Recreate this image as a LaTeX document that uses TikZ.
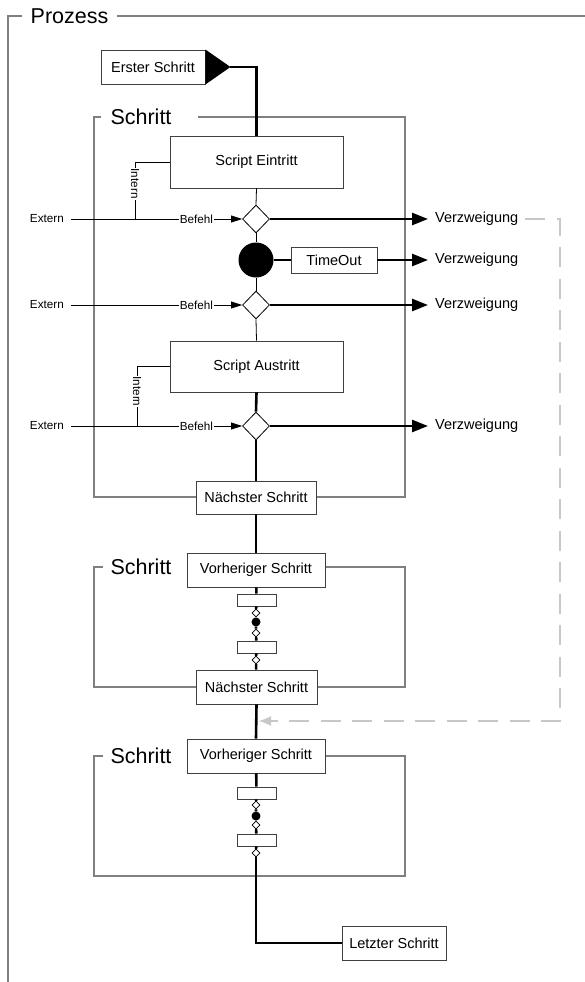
\documentclass[tikz,border=0pt]{standalone}
\usepackage{fontspec}
\setmainfont{Liberation Sans}
\usetikzlibrary{shapes.geometric,arrows.meta}
\definecolor{frameline}{RGB}{128,128,128}
\definecolor{boxline}{RGB}{64,64,64}
\definecolor{jumpline}{RGB}{200,200,200}
\newcommand\boxfont{\fontsize{14.5}{17}\selectfont}
\newcommand\lblfont{\fontsize{11.7}{14}\selectfont}
\newcommand\frmfont{\fontsize{21.5}{25}\selectfont}

\tikzset{
  box/.style={draw=boxline, line width=0.9pt, fill=white, inner sep=0pt, font=\boxfont},
  gate/.style={diamond, draw, line width=0.8pt, fill=white, inner sep=0pt, minimum width=27pt, minimum height=28pt},
  slot/.style={draw=boxline, line width=0.9pt, fill=white, inner sep=0pt, minimum width=39pt, minimum height=12pt},
  pin/.style={diamond, draw, line width=0.6pt, fill=white, inner sep=0pt, minimum size=8pt},
  knob/.style={circle, fill=black, inner sep=0pt, minimum size=9pt},
  hull/.style={draw=frameline, line width=1.2pt},
  flow/.style={line width=2.6pt},
  wire/.style={line width=0.8pt},
  branch/.style={line width=2.6pt, -{Triangle[length=16pt,width=12pt]}},
  cmd/.style={line width=0.8pt, -{Triangle[length=11pt,width=7pt]}},
  back/.style={draw=jumpline, line width=2.6pt, dash pattern=on 20pt off 11.5pt, -{Latex[length=13pt,width=10pt]}},
  exit/.style={font=\boxfont, anchor=west, inner xsep=7pt, inner ysep=0pt},
  ext/.style={font=\lblfont, anchor=east, inner xsep=7pt, inner ysep=0pt},
  cmdlbl/.style={font=\lblfont, fill=white, inner sep=1pt},
  intern/.style={font=\lblfont, rotate=-90, fill=white, inner sep=1pt}
}

\begin{document}
\begin{tikzpicture}[x=1pt, y=-1pt]
  \useasboundingbox (0,0) rectangle (585,982);

  % Process frame
  \draw[hull] (585,16) -- (8,16) -- (8,982);
  \node[font=\frmfont, fill=white, inner xsep=9pt] (prozess) at (69.5,16) {Prozess};

  % Step frames
  \draw[hull] (101,117) -- (94,117) -- (94,497) -- (196,497);
  \draw[hull] (198,117) -- (405,117) -- (405,497) -- (316,497);
  \draw[hull] (103,567) -- (94,567) -- (94,687) -- (196,687);
  \draw[hull] (325,567) -- (405,567) -- (405,687) -- (317,687);
  \draw[hull] (103,756) -- (94,756) -- (94,876) -- (405,876) -- (405,756) -- (325,756);
  \node[font=\frmfont] (step1) at (141,117) {Schritt};
  \node[font=\frmfont] (step2) at (141,567) {Schritt};
  \node[font=\frmfont] (step3) at (141,756) {Schritt};

  % First step with its start marker
  \node[box, minimum width=104pt, minimum height=34pt] (first) at (153,67) {Erster Schritt};
  \fill (first.north east) -- (first.south east) -- ([xshift=25pt]first.east) coordinate (start) -- cycle;

  % Step 1
  \node[box, minimum width=173pt, minimum height=52pt] (entry) at (256.5,162) {Script Eintritt};
  \node[gate] (g1) at (256,219) {};
  \node[circle, fill=black, inner sep=0pt, minimum size=35pt] (timer) at (256,260) {};
  \node[box, minimum width=86pt, minimum height=26pt] (timeout) at (334,260) {TimeOut};
  \node[gate] (g2) at (256,305) {};
  \node[box, minimum width=173pt, minimum height=51pt] (exitbox) at (256.5,366.5) {Script Austritt};
  \node[gate] (g3) at (256,426) {};
  \node[box, minimum width=120pt, minimum height=33pt] (next1) at (256,497.5) {Nächster Schritt};

  % Commands into the gates
  \node[ext] (ext1) at (71,219) {Extern};
  \node[ext] (ext2) at (71,305) {Extern};
  \node[ext] (ext3) at (71,426) {Extern};
  \node[cmdlbl] (cmd1) at (196.5,219) {Befehl};
  \node[cmdlbl] (cmd2) at (196.5,305) {Befehl};
  \node[cmdlbl] (cmd3) at (196.5,426) {Befehl};
  \coordinate (j1) at (135,219);
  \coordinate (j3) at (137,426);

  % Branch targets
  \node[exit] (v1) at (428,219) {Verzweigung};
  \node[exit] (v2) at (428,260) {Verzweigung};
  \node[exit] (v3) at (428,305) {Verzweigung};
  \node[exit] (v4) at (428,426) {Verzweigung};

  % Step 2
  \node[box, minimum width=138pt, minimum height=34pt] (prev2) at (256,570) {Vorheriger Schritt};
  \node[slot] (ra2) at (256.5,600) {};
  \node[pin] (da2) at (256,613) {};
  \node[knob] (dot2) at (256,622) {};
  \node[pin] (db2) at (256,633) {};
  \node[slot] (rb2) at (256.5,647) {};
  \node[pin] (dc2) at (256,660) {};
  \node[box, minimum width=121pt, minimum height=34pt] (next2) at (256.5,687) {Nächster Schritt};

  % Step 3
  \node[box, minimum width=138pt, minimum height=34pt] (prev3) at (256,756) {Vorheriger Schritt};
  \node[slot] (ra3) at (256.5,793) {};
  \node[pin] (da3) at (256,805) {};
  \node[knob] (dot3) at (256,816) {};
  \node[pin] (db3) at (256,825) {};
  \node[slot] (rb3) at (256.5,840) {};
  \node[pin] (dc3) at (256,853) {};
  \node[box, minimum width=104pt, minimum height=34pt] (last) at (394,943) {Letzter Schritt};

  % Main flow
  \draw[flow] (start) -| (entry.north);
  \draw[wire] (entry.south) -- (g1.north);
  \draw[wire] (g1.south) -- (timer.north);
  \draw[wire] (timer.south) -- (g2.north);
  \draw[wire] (g2.south) -- (exitbox.north);
  \draw[flow] (exitbox.south) -- (g3.north);
  \draw[flow] (g3.south) -- (next1.north);
  \draw[flow] (next1.south) -- (prev2.north);
  \draw[flow] (prev2) -- (ra2) -- (da2) -- (dot2) -- (db2) -- (rb2) -- (dc2) -- (next2);
  \draw[flow] (next2.south) -- (prev3.north);
  \draw[flow] (prev3) -- (ra3) -- (da3) -- (dot3) -- (db3) -- (rb3) -- (dc3);
  \draw[flow] (dc3.south) |- (last.west);

  % Commands
  \draw[wire] (ext1.east) -- (cmd1.west);
  \draw[wire] (ext2.east) -- (cmd2.west);
  \draw[wire] (ext3.east) -- (cmd3.west);
  \draw[cmd] (cmd1.east) -- (g1.west);
  \draw[cmd] (cmd2.east) -- (g2.west);
  \draw[cmd] (cmd3.east) -- (g3.west);
  \draw[wire] (j1) |- node[intern, pos=0.31] {Intern} (entry.west);
  \draw[wire] (j3) |- node[intern, pos=0.29] {Intern} (exitbox.west);

  % Branches
  \draw[branch] (g1.east) -- (v1.west);
  \draw[flow] (timer.east) -- (timeout.west);
  \draw[branch] (timeout.east) -- (v2.west);
  \draw[branch] (g2.east) -- (v3.west);
  \draw[branch] (g3.east) -- (v4.west);

  % Jump back into the flow
  \coordinate (bend) at (560,721);
  \coordinate (rejoin) at (258,721);
  \draw[back] (v1.east) -| (bend) -- (rejoin);
\end{tikzpicture}
\end{document}
